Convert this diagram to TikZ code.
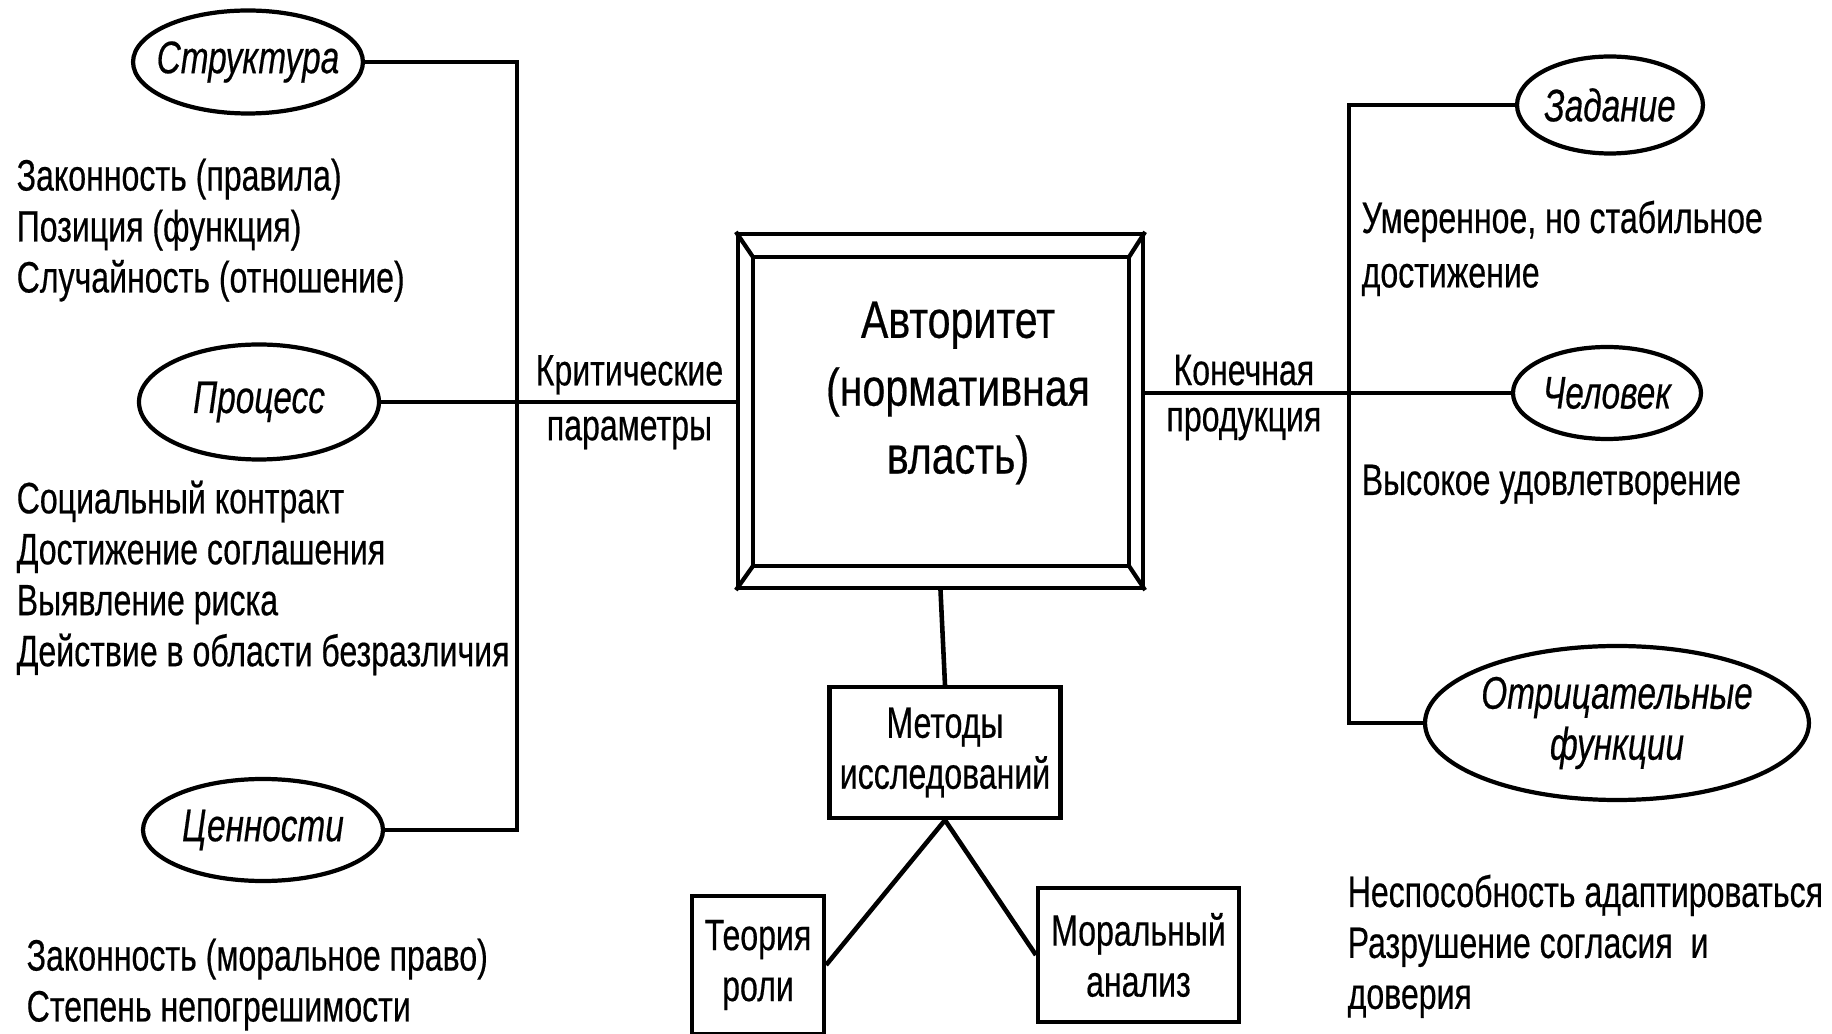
\documentclass[tikz,border=0pt]{standalone}
\usepackage{fontspec}
\setmainfont{Liberation Sans}[FakeStretch=0.73, FakeBold=0.4]
\newfontfamily\widefont{Liberation Sans}[FakeStretch=0.78, FakeBold=0.4]
\usetikzlibrary{shapes.geometric}

\tikzset{
  txt/.style={font=\fontsize{12.5}{14.5}\selectfont},
  oval/.style={draw, ellipse, line width=1.2pt, inner sep=0pt, font=\fontsize{13}{14.5}\selectfont\itshape, align=center},
  box/.style={draw, rectangle, line width=1.2pt, inner sep=0pt, txt, align=center},
  note/.style={txt, anchor=north west, align=left, inner sep=0pt},
  wire/.style={line width=1.3pt}
}

\begin{document}
\begin{tikzpicture}
  \useasboundingbox (0,0) rectangle (18.32,-10.34);

  % left side
  \node[oval, inner xsep=-0.1cm, minimum width=2.2cm, minimum height=1.03cm] (str) at (2.48,-0.62) {Структура};
  \node[oval, minimum width=2.40cm, minimum height=1.15cm] (pro) at (2.59,-4.02) {Процесс};
  \node[oval, minimum width=2.40cm, minimum height=1.02cm] (cen) at (2.63,-8.30) {Ценности};
  \coordinate (lcorner) at (5.17,-8.30);

  \node[note] (n1) at (0.16,-1.58) {Законность (правила)\\Позиция (функция)\\Случайность (отношение)};
  \node[note] (n2) at (0.16,-4.80) {Социальный контракт\\Достижение соглашения\\Выявление риска\\Действие в области безразличия};
  \node[note] (n3) at (0.26,-9.38) {Законность (моральное право)\\Степень непогрешимости};

  % centre
  \node[draw, line width=1.2pt, minimum width=4.05cm, minimum height=3.54cm] (avt) at (9.405,-4.11) {};
  \coordinate (inw) at ([shift={(0.17,-0.25)}]avt.north west);
  \coordinate (ine) at ([shift={(-0.16,-0.25)}]avt.north east);
  \coordinate (isw) at ([shift={(0.17,0.24)}]avt.south west);
  \coordinate (ise) at ([shift={(-0.16,0.24)}]avt.south east);
  \draw[line width=1.2pt] (inw) rectangle (ise);
  \draw[line width=1.2pt] (avt.north west) -- (inw) (avt.north east) -- (ine)
                          (avt.south west) -- (isw) (avt.south east) -- (ise);
  \node[align=center, font=\widefont\fontsize{15}{19.3}\selectfont] (avttext) at (9.58,-3.93) {Авторитет\\(нормативная\\власть)};

  \node[box, minimum width=2.31cm, minimum height=1.31cm] (met) at (9.45,-7.525) {Методы\\исследований};
  \node[box, minimum width=1.32cm, minimum height=1.38cm] (teo) at (7.58,-9.65) {Теория\\роли};
  \node[box, minimum width=2.01cm, minimum height=1.34cm] (mor) at (11.385,-9.55) {Моральный\\анализ};

  % right side
  \node[oval, minimum width=1.85cm, minimum height=0.97cm] (zad) at (16.10,-1.05) {Задание};
  \node[oval, minimum width=1.88cm, minimum height=0.92cm] (che) at (16.07,-3.93) {Человек};
  \node[oval, minimum width=3.62cm, minimum height=1.54cm] (otr) at (16.17,-7.23) {Отрицательные\\функции};
  \coordinate (rcorner) at (13.49,-7.23);

  \node[note] (n4) at (13.61,-2.00) {Умеренное, но стабильное\\[1pt]достижение};
  \node[note] (n5) at (13.61,-4.64) {Высокое удовлетворение};
  \node[note] (n6) at (13.47,-8.74) {Неспособность адаптироваться\\Разрушение согласия\ \ и\\доверия};

  % connectors
  \draw[wire] (str.east) -| (lcorner) -- (cen.east);
  \draw[wire] (pro.east) -- node[txt, above, pos=0.7, inner sep=1.5pt] {Критические}
                            node[txt, below, pos=0.7, inner sep=3.5pt] {параметры} (pro.east -| avt.west);
  \draw[wire] (avt.east |- che.west) -- node[txt, above, pos=0.27, inner sep=1.5pt] {Конечная}
                                       node[txt, below, pos=0.27, inner sep=3.5pt] {продукция} (che.west);
  \draw[wire] (zad.west) -| (rcorner) -- (otr.west);
  \draw[wire] (avt.south) -- (met.north);
  \draw[wire] (met.south) -- (teo.east);
  \draw[wire] (met.south) -- (mor.west);
\end{tikzpicture}
\end{document}
